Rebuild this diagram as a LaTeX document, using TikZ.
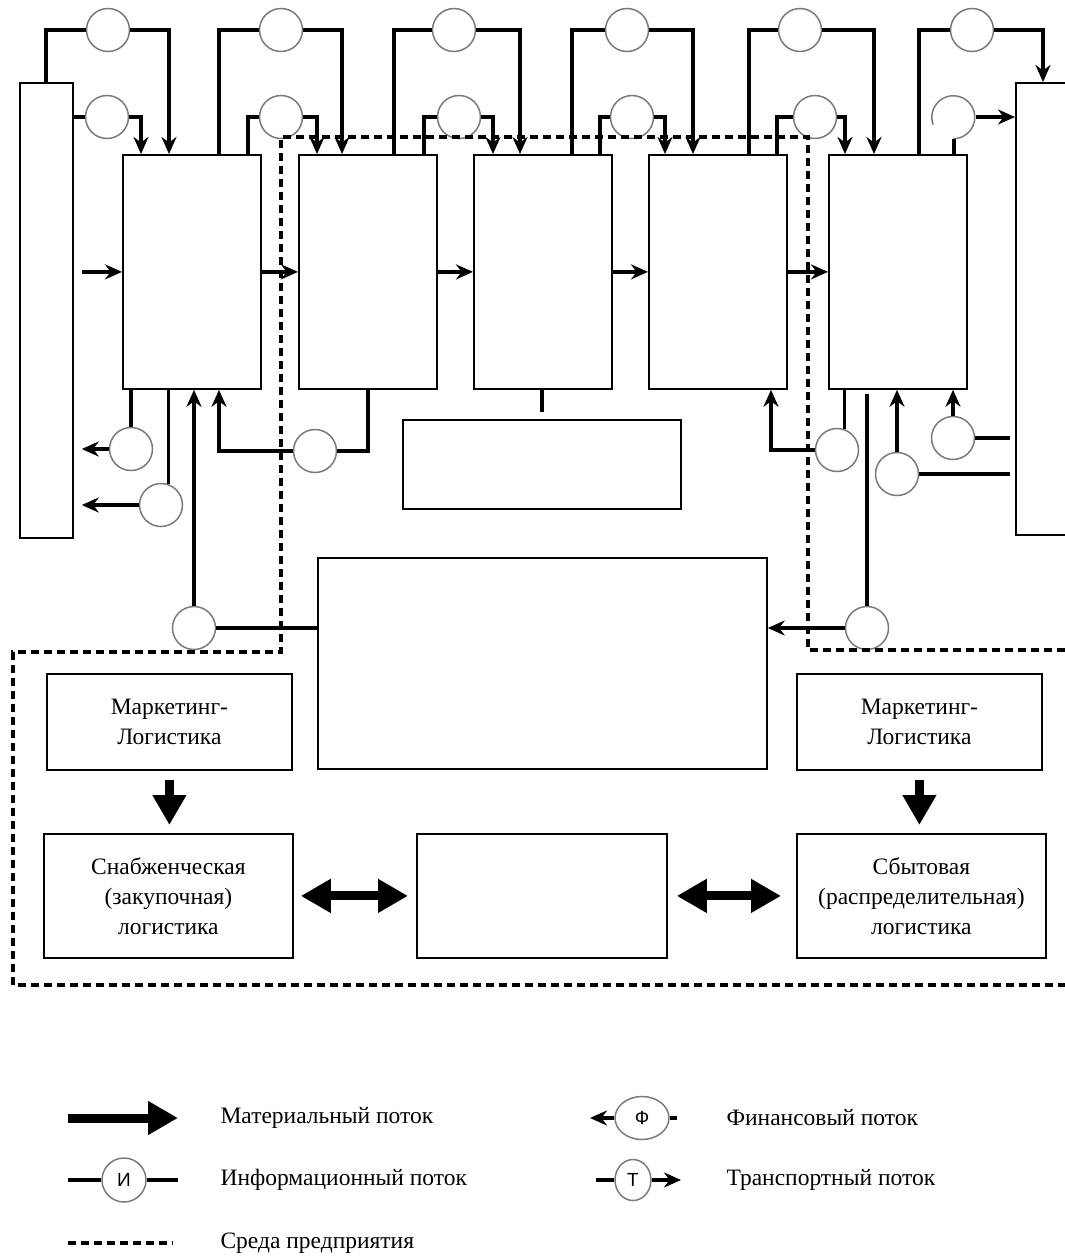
\documentclass[tikz,border=0pt]{standalone}
\usepackage{fontspec}
\setmainfont{Liberation Serif}
\setsansfont{Liberation Sans}
\usetikzlibrary{arrows.meta,positioning,calc,shapes.geometric}
\definecolor{ring}{HTML}{7A7A7A}

\begin{document}
\begin{tikzpicture}[x=1pt,y=-1pt,
  blk/.style 2 args={draw,line width=1.8pt,inner sep=0pt,anchor=north west,
    minimum width=#1pt,minimum height=#2pt,align=center,font=\fontsize{23.5}{30}\selectfont},
  ring/.style={circle,draw=ring,line width=1.5pt,minimum size=43pt,inner sep=0pt},
  legring/.style={ellipse,draw=ring,line width=1.5pt,inner sep=0pt,font=\sffamily\fontsize{19}{19}\selectfont},
  wire/.style={line width=3.2pt},
  flow/.style={wire,-{Stealth[length=17pt,width=15pt]}},
  mat/.style={line width=9pt,-{Triangle[length=30pt,width=32pt]}},
  dmat/.style={line width=9pt,{Triangle[length=30pt,width=32pt]}-{Triangle[length=30pt,width=32pt]}},
  env/.style={line width=3.2pt,dash pattern=on 8pt off 5pt},
  lbl/.style={anchor=west,font=\fontsize{23.5}{26}\selectfont}]
\useasboundingbox (0,0) rectangle (1065,1256);

% side boxes and the chain
\node[blk={53}{455}] (sup) at (19,82) {};
\node[blk={65}{452}] (cus) at (1015,82) {};
\foreach \n/\x in {1/122,2/298,3/473,4/648,5/828}
  \node[blk={138}{234}] (s\n) at (\x,154) {};
\node[blk={278}{89}] (mid) at (402,419) {};
\node[blk={449}{211}] (big) at (317,557) {};

% upper circles
\foreach \n/\x in {1/108,2/281,3/454,4/627,5/800,6/972}
  \node[ring] (t\n) at (\x,30) {};
\foreach \n/\x in {1/107,2/281,3/459,4/632,5/815}
  \node[ring] (u\n) at (\x,117) {};
\node[ring,draw=none] (u6) at (954,117) {};
\draw[draw=ring,line width=1.5pt] (u6.200) arc[start angle=200,end angle=-90,radius=21.5pt];

% top loops
\foreach \src/\dst/\xl/\xr/\n in {sup/s1/46/169/1,s1/s2/219/342/2,s2/s3/394/520/3,
    s3/s4/572/693/4,s4/s5/749/874/5,s5/cus/919/1043/6}
  \draw[flow] (\src.north -| \xl,0) |- (t\n.west) (t\n.east) -| (\dst.north -| \xr,0);
\draw[flow] (sup.east |- u1.west) -- (u1.west) (u1.east) -| (s1.north -| 141,0);
\foreach \src/\dst/\xl/\xr/\n in {s1/s2/248/317/2,s2/s3/424/493/3,s3/s4/600/665/4,s4/s5/777/845/5}
  \draw[flow] (\src.north -| \xl,0) |- (u\n.west) (u\n.east) -| (\dst.north -| \xr,0);
\draw[wire] (s5.north -| u6.south) -- (u6.south);
\draw[flow] (u6.east) -- (cus.west |- u6.east);

% material flow along the chain
\draw[flow] ($(sup.east |- s1.west)+(8,0)$) -- (s1.west);
\foreach \src/\dst in {s1/s2,s2/s3,s3/s4,s4/s5}
  \draw[flow] (\src.east) -- (\dst.west);

% lower circles
\node[ring] (c1) at (131,449) {};
\node[ring] (c2) at (161,505) {};
\node[ring] (b1) at (194,628) {};
\node[ring] (m1) at (315,451) {};
\node[ring] (m2) at (837,450) {};
\node[ring] (b2) at (867,628) {};
\node[ring] (r1) at (953,438) {};
\node[ring] (r2) at (897,474) {};

\draw[wire] (s1.south -| c1.north) -- (c1.north);
\draw[flow,shorten >=8pt] (c1.west) -- (sup.east |- c1.west);
\draw[wire] (s1.south -| c2.70) -- (c2.70);
\draw[flow,shorten >=8pt] (c2.west) -- (sup.east |- c2.west);
\draw[flow] (b1.north) -- (s1.south -| b1.north);
\draw[wire] (b1.east) -- (big.west |- b1.east);
\draw[flow] (s2.south -| 368,0) |- (m1.east) (m1.west) -| (s1.south -| 219,0);
\draw[wire] (s3.south -| 542,0) -- ++(0,22);
\draw[flow] (s5.south -| m2.70) -- (m2.70) (m2.west) -| (s4.south -| 771,0);
\draw[wire] ($(s5.south -| b2.north)+(0,4)$) -- (b2.north);
\draw[flow] (b2.west) -- (big.east |- b2.west);
\draw[flow] (r1.north) -- (s5.south -| r1.north);
\draw[wire,shorten >=5pt] (r1.east) -- (cus.west |- r1.east);
\draw[flow] (r2.north) -- (s5.south -| r2.north);
\draw[wire,shorten >=5pt] (r2.east) -- (cus.west |- r2.east);

% enterprise border
\draw[env] (1065,650) -- (808,650) -- (808,137) -- (281,137) -- (281,652)
  -- (13,652) -- (13,985) -- (1065,985);

% logistics blocks
\node[blk={245}{96}] (ml1) at (46,673) {Маркетинг-\\Логистика};
\node[blk={245}{96}] (ml2) at (796,673) {Маркетинг-\\Логистика};
\node[blk={249}{124}] (sl) at (43,833) {Снабженческая\\(закупочная)\\логистика};
\node[blk={250}{124}] (ctr) at (416,833) {};
\node[blk={249}{124}] (sbl) at (796,833) {Сбытовая\\(распределительная)\\логистика};
\draw[mat,shorten <=9pt,shorten >=8pt] (ml1.south) -- (ml1.south |- sl.north);
\draw[mat,shorten <=9pt,shorten >=8pt] (ml2.south) -- (ml2.south |- sbl.north);
\draw[dmat,shorten <=7pt,shorten >=8pt] (sl.east) -- (ctr.west);
\draw[dmat,shorten <=9pt,shorten >=15pt] (ctr.east) -- (sbl.west);

% legend
\coordinate (lm0) at (68,1118);
\coordinate (lm1) at (178,1118);
\draw[mat] (lm0) -- (lm1);
\node[lbl] (lmt) at (217,1118) {Материальный поток};
\coordinate (li0) at (68,1180);
\node[legring,minimum width=44pt,minimum height=44pt] (li) at (124,1180) {И};
\coordinate (li1) at (178,1180);
\draw[wire] (li0) -- (li) -- (li1);
\node[lbl] (lit) at (217,1180) {Информационный поток};
\coordinate (le0) at (68,1243);
\coordinate (le1) at (173,1243);
\draw[env] (le0) -- (le1);
\node[lbl] (let) at (217,1243) {Среда предприятия};
\coordinate (lf0) at (590,1118);
\node[legring,minimum width=54pt,minimum height=43pt] (lf) at (642,1118) {Ф};
\coordinate (lf1) at (677,1118);
\draw[flow] (lf) -- (lf0);
\draw[wire] (lf) -- (lf1);
\node[lbl] (lft) at (723,1118) {Финансовый поток};
\coordinate (lt0) at (596,1180);
\node[legring,minimum width=36pt,minimum height=41pt] (lt) at (633,1180) {Т};
\coordinate (lt1) at (681,1180);
\draw[wire] (lt0) -- (lt);
\draw[flow] (lt) -- (lt1);
\node[lbl] (ltt) at (723,1180) {Транспортный поток};
\end{tikzpicture}
\end{document}
